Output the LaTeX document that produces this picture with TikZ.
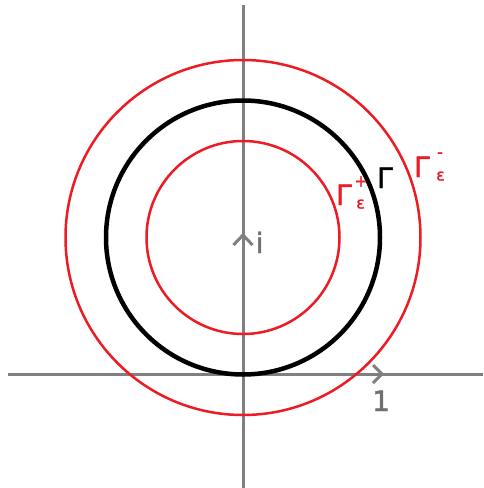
\documentclass[tikz,border=0pt]{standalone}
\usepackage{fontspec}
\setmainfont{DejaVu Sans}
\newfontfamily\labfont{DejaVu Sans}[FakeBold=1.5]
\definecolor{axisgray}{RGB}{128,128,128}
\definecolor{labelgray}{RGB}{112,112,112}
\definecolor{paintred}{RGB}{237,28,36}
\begin{document}
\begin{tikzpicture}[x=1pt,y=-1pt,
  axis/.style={draw=axisgray,line width=3pt},
  chevron/.style={draw=axisgray,line width=3pt,line join=miter},
  redcirc/.style={draw=paintred,line width=2.5pt},
  blackcirc/.style={draw=black,line width=4.5pt},
  biglabel/.style={inner sep=0pt,anchor=base west,font=\fontsize{28}{28}\selectfont\labfont},
  smalllabel/.style={inner sep=0pt,font=\fontsize{16}{16}\selectfont\labfont}]
\useasboundingbox (0,0) rectangle (483,488);
\fill[white] (0,0) rectangle (483,488);
% axes
\coordinate (xl) at (8,374);
\coordinate (xr) at (483,374);
\coordinate (yt) at (243,5);
\coordinate (yb) at (243,488);
\coordinate (o) at (243,237.5);
\draw[axis] (xl) -- (xr);
\draw[axis] (yt) -- (yb);
% circles
\draw[redcirc] (o) circle[radius=177.5];
\draw[redcirc] (o) circle[radius=96.5];
\draw[blackcirc] (o) circle[radius=137];
% chevrons
\coordinate (itip) at (243,235);
\coordinate (otip) at (382,374);
\draw[chevron] ([shift={(-9.5,10)}]itip) -- (itip) -- ([shift={(9.5,10)}]itip);
\draw[chevron] ([shift={(-9,-9)}]otip) -- (otip) -- ([shift={(-9,9)}]otip);
% labels
\node[biglabel,text=labelgray] (ilab) at (255.5,253) {i};
\node[biglabel,text=labelgray] (onelab) at (372,411) {1};
\node[biglabel,text=black] (gam) at (377,188) {Γ};
\node[biglabel,text=paintred] (gamp) at (336,205) {Γ};
\node[smalllabel,anchor=base west,text=paintred] (epsp) at (356,208.5) {ε};
\node[smalllabel,anchor=center,text=paintred] (plus) at (361,181.5) {+};
\node[biglabel,text=paintred] (gamm) at (414,177) {Γ};
\node[smalllabel,anchor=base west,text=paintred] (epsm) at (436,180.5) {ε};
\node[smalllabel,anchor=center,text=paintred] (minus) at (440,155) {-};
\end{tikzpicture}
\end{document}
